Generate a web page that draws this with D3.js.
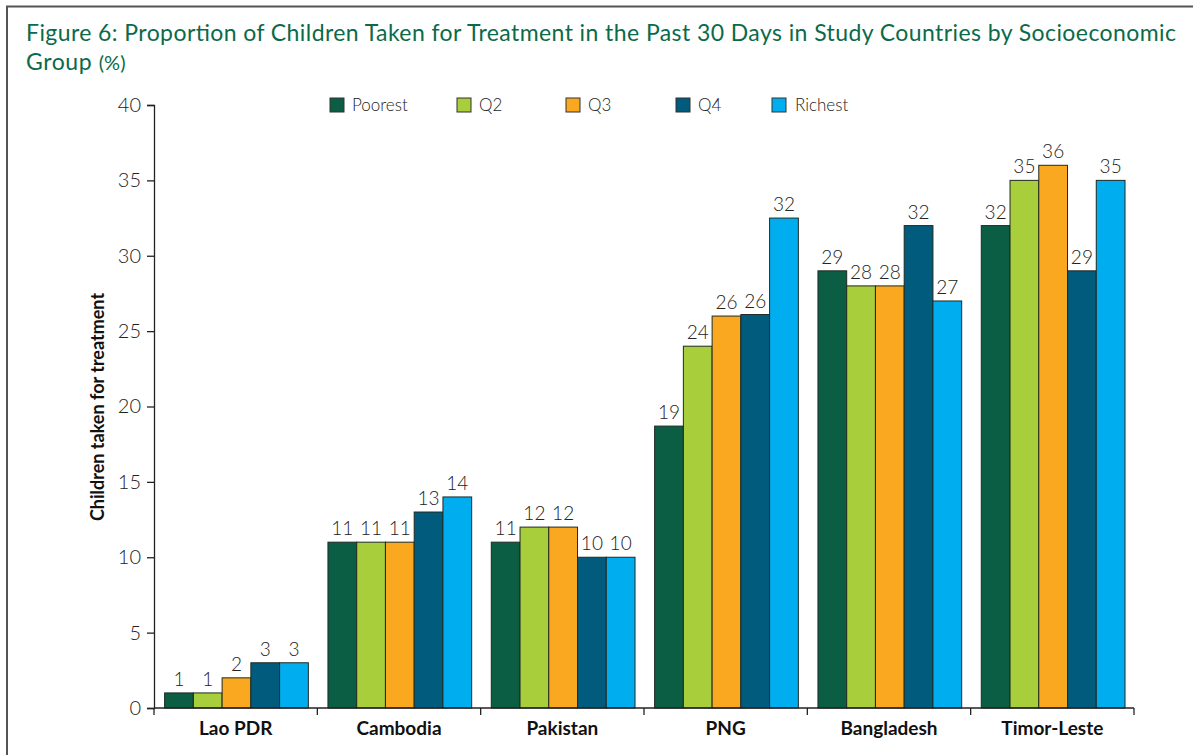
<!DOCTYPE html>
<html lang="en">
  <head>
    <meta charset="UTF-8" />
    <script src="https://d3js.org/d3.v7.min.js"></script>
    <title>Figure 6</title>
    <style>
      body { margin: 0; background: #fff; }
      text { font-family: Lato, "Open Sans", sans-serif; }
    </style>
  </head>
  <body>
    <svg width="1193" height="755"></svg>
    <script>
      // data
      var countries = ["Lao PDR", "Cambodia", "Pakistan", "PNG", "Bangladesh", "Timor-Leste"];
      var groups = ["Poorest", "Q2", "Q3", "Q4", "Richest"];
      var poorest = [1, 11, 11, 18.7, 29, 32];
      var q2 = [1, 11, 12, 24, 28, 35];
      var q3 = [2, 11, 12, 26, 28, 36];
      var q4 = [3, 13, 10, 26.1, 32, 29];
      var richest = [3, 14, 10, 32.5, 27, 35];
      var labels = [
        ["1", "1", "2", "3", "3"],
        ["11", "11", "11", "13", "14"],
        ["11", "12", "12", "10", "10"],
        ["19", "24", "26", "26", "32"],
        ["29", "28", "28", "32", "27"],
        ["32", "35", "36", "29", "35"]
      ];
      var yTicks = [0, 5, 10, 15, 20, 25, 30, 35, 40];
      var colors = ["#0b5e44", "#a8cf3b", "#f9a81f", "#005b7c", "#00aeef"];

      var series = [poorest, q2, q3, q4, richest];
      var data = countries.map(function (c, i) {
        return {
          country: c,
          values: groups.map(function (g, j) {
            return { key: g, value: series[j][i], label: labels[i][j] };
          })
        };
      });

      var svg = d3.select("svg");
      var plotLeft = 154, plotRight = 1134, plotTop = 105, plotBottom = 708;

      // frame
      svg.append("path")
        .attr("d", "M7,760 L7,6.5 L1200,6.5")
        .attr("fill", "none")
        .attr("stroke", "#555")
        .attr("stroke-width", 2);

      // title
      var title = svg.append("text")
        .attr("fill", "#0b6a4a")
        .attr("font-size", 23);
      title.append("tspan").attr("x", 26).attr("y", 41)
        .attr("textLength", 1150)
        .attr("lengthAdjust", "spacing")
        .text("Figure 6: Proportion of Children Taken for Treatment in the Past 30 Days in Study Countries by Socioeconomic");
      var t2 = title.append("tspan").attr("x", 26).attr("y", 70);
      t2.append("tspan").attr("letter-spacing", 0.6).text("Group ");
      t2.append("tspan").attr("font-size", 20).text("(%)");

      var x0 = d3.scaleBand().domain(countries).range([plotLeft, plotRight]);
      var x1 = d3.scaleBand().domain(groups)
        .range([x0.bandwidth() * 0.065, x0.bandwidth() * 0.945]);
      var y = d3.scaleLinear().domain([0, 40]).range([plotBottom, plotTop]);

      var g = svg.append("g");

      var grp = g.selectAll("g.country")
        .data(data)
        .enter()
        .append("g")
        .attr("class", "country")
        .attr("transform", function (d) { return "translate(" + x0(d.country) + ",0)"; });

      grp.selectAll("rect")
        .data(function (d) { return d.values; })
        .enter()
        .append("rect")
        .attr("x", function (d) { return x1(d.key); })
        .attr("y", function (d) { return y(d.value); })
        .attr("width", x1.bandwidth())
        .attr("height", function (d) { return y(0) - y(d.value); })
        .attr("fill", function (d, i) { return colors[i]; })
        .attr("stroke", "#1e2a24")
        .attr("stroke-width", 1);

      grp.selectAll("text.val")
        .data(function (d) { return d.values; })
        .enter()
        .append("text")
        .attr("class", "val")
        .attr("x", function (d) { return x1(d.key) + x1.bandwidth() / 2; })
        .attr("y", function (d) { return y(d.value) - 7; })
        .attr("text-anchor", "middle")
        .attr("font-size", 19)
        .attr("font-weight", 300)
        .attr("fill", "#222")
        .text(function (d) { return d.label; });

      // y axis
      var yAxis = g.append("g")
        .attr("transform", "translate(" + plotLeft + ",0)")
        .call(d3.axisLeft(y).tickValues(yTicks).tickSize(7).tickPadding(6));
      yAxis.selectAll("text")
        .attr("font-size", 20)
        .attr("font-weight", 300)
        .attr("fill", "#222")
        .style("font-family", "Lato, sans-serif");
      yAxis.selectAll("line, path").attr("stroke", "#222").attr("stroke-width", 1.3);

      // x axis
      var xAxis = g.append("g")
        .attr("transform", "translate(0," + plotBottom + ")")
        .call(d3.axisBottom(x0).tickSize(0).tickPadding(14));
      xAxis.select("path").attr("stroke", "#222").attr("stroke-width", 1.3)
        .attr("d", "M" + plotLeft + ",0H" + plotRight);
      xAxis.selectAll("text")
        .attr("font-size", 19)
        .attr("font-weight", 700)
        .attr("fill", "#111")
        .style("font-family", "Lato, sans-serif");
      xAxis.selectAll(".edge")
        .data(countries.concat(["end"]))
        .enter()
        .append("line")
        .attr("class", "edge")
        .attr("x1", function (d) { return d === "end" ? plotRight : x0(d); })
        .attr("x2", function (d) { return d === "end" ? plotRight : x0(d); })
        .attr("y1", 0)
        .attr("y2", 7)
        .attr("stroke", "#222")
        .attr("stroke-width", 1.3);

      // y axis title
      svg.append("text")
        .attr("transform", "translate(104,407) rotate(-90)")
        .attr("text-anchor", "middle")
        .attr("font-size", 18)
        .attr("font-weight", 700)
        .attr("fill", "#111")
        .text("Children taken for treatment");

      // legend
      var legendX = [330, 457, 566, 676, 772];
      var legend = svg.append("g")
        .selectAll("g")
        .data(groups)
        .enter()
        .append("g")
        .attr("transform", function (d, i) { return "translate(" + legendX[i] + ",98)"; });
      legend.append("rect")
        .attr("width", 14)
        .attr("height", 14)
        .attr("fill", function (d, i) { return colors[i]; })
        .attr("stroke", "#333")
        .attr("stroke-width", 1);
      legend.append("text")
        .attr("x", function (d, i) { return i === 4 ? 23 : 22; })
        .attr("y", 7)
        .attr("dy", "0.36em")
        .attr("font-size", 17)
        .attr("font-weight", 300)
        .attr("fill", "#222")
        .text(function (d) { return d; });
    </script>
  </body>
</html>
